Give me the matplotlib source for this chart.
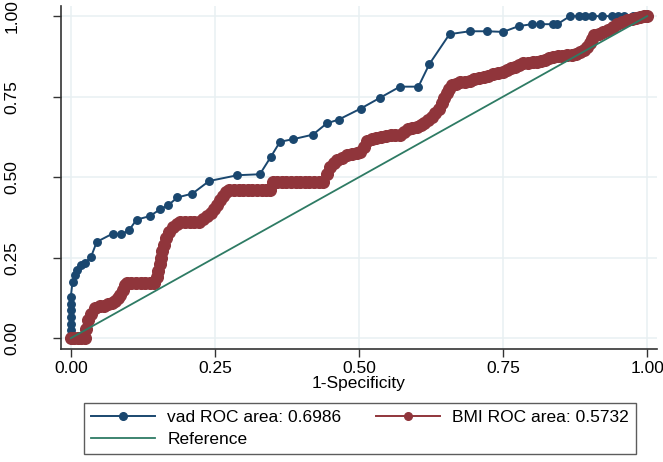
import matplotlib
matplotlib.use("Agg")
from matplotlib import pyplot as plt

# vad ROC points (1-specificity, sensitivity)
vad_x = [0, 0, 0, 0, 0, 0, 0, 0.003, 0.007, 0.011, 0.017, 0.024, 0.035, 0.045,
         0.073, 0.087, 0.101, 0.114, 0.137, 0.155, 0.169, 0.185, 0.211, 0.24,
         0.289, 0.328, 0.347, 0.363, 0.386, 0.42, 0.444, 0.465, 0.503, 0.536,
         0.571, 0.603, 0.622, 0.657, 0.692, 0.722, 0.75, 0.777, 0.80, 0.814,
         0.837, 0.844, 0.866, 0.881, 0.892, 0.904, 0.921, 0.939, 0.95, 0.959,
         0.975, 1.0]
vad_y = [0.004, 0.025, 0.045, 0.066, 0.087, 0.107, 0.128, 0.175, 0.196, 0.211,
         0.227, 0.233, 0.252, 0.299, 0.325, 0.322, 0.335, 0.368, 0.379, 0.40,
         0.413, 0.437, 0.449, 0.488, 0.506, 0.509, 0.563, 0.61, 0.618, 0.632,
         0.667, 0.679, 0.713, 0.746, 0.781, 0.781, 0.851, 0.944, 0.953, 0.953,
         0.951, 0.969, 0.975, 0.975, 0.975, 0.975, 1.0, 1.0, 1.0, 1.0, 1.0, 1.0,
         1.0, 1.0, 1.0, 1.0]

# BMI ROC points
bmi_pts = [
    (0, 0), (0.006, 0), (0.012, 0), (0.018, 0), (0.024, 0), (0.027, 0.03),
    (0.029, 0.056), (0.035, 0.075), (0.042, 0.095), (0.05, 0.10), (0.058, 0.10),
    (0.065, 0.105), (0.071, 0.109), (0.077, 0.115), (0.082, 0.124), (0.086, 0.135),
    (0.09, 0.15), (0.094, 0.165), (0.097, 0.17), (0.105, 0.17), (0.113, 0.17),
    (0.121, 0.17), (0.129, 0.17), (0.137, 0.17), (0.145, 0.17), (0.149, 0.19),
    (0.151, 0.21), (0.155, 0.23), (0.157, 0.25), (0.159, 0.27), (0.161, 0.29),
    (0.165, 0.31), (0.17, 0.33), (0.177, 0.345), (0.185, 0.355), (0.19, 0.36),
    (0.198, 0.36), (0.206, 0.36), (0.214, 0.36), (0.222, 0.362), (0.23, 0.37),
    (0.237, 0.38), (0.243, 0.39), (0.248, 0.40), (0.253, 0.415), (0.259, 0.43),
    (0.264, 0.44), (0.27, 0.455), (0.275, 0.46), (0.283, 0.46), (0.291, 0.46),
    (0.299, 0.46), (0.307, 0.46), (0.315, 0.46), (0.323, 0.46), (0.331, 0.46),
    (0.339, 0.46), (0.345, 0.46), (0.35, 0.485), (0.358, 0.485), (0.366, 0.485),
    (0.374, 0.485), (0.382, 0.485), (0.39, 0.485), (0.398, 0.485), (0.406, 0.485),
    (0.414, 0.485), (0.422, 0.485), (0.43, 0.485), (0.438, 0.485), (0.445, 0.51),
    (0.45, 0.532), (0.456, 0.545), (0.462, 0.553), (0.47, 0.56), (0.479, 0.568),
    (0.488, 0.572), (0.496, 0.576), (0.502, 0.579), (0.508, 0.595), (0.514, 0.612),
    (0.522, 0.618), (0.53, 0.622), (0.538, 0.625), (0.546, 0.628), (0.555, 0.63),
    (0.563, 0.63), (0.571, 0.632), (0.578, 0.64), (0.585, 0.648), (0.592, 0.652),
    (0.6, 0.657), (0.607, 0.662), (0.613, 0.668), (0.62, 0.678), (0.627, 0.688),
    (0.632, 0.698), (0.638, 0.712), (0.644, 0.729), (0.648, 0.745), (0.652, 0.76),
    (0.656, 0.775), (0.662, 0.785), (0.668, 0.79), (0.676, 0.795), (0.684, 0.797),
    (0.692, 0.8), (0.7, 0.805), (0.708, 0.808), (0.716, 0.811), (0.724, 0.815),
    (0.732, 0.819), (0.741, 0.823), (0.749, 0.828), (0.756, 0.833), (0.763, 0.838),
    (0.77, 0.843), (0.778, 0.848), (0.785, 0.853), (0.793, 0.855), (0.801, 0.857),
    (0.809, 0.858), (0.816, 0.86), (0.823, 0.865), (0.83, 0.87), (0.837, 0.874),
    (0.845, 0.876), (0.853, 0.877), (0.861, 0.878), (0.869, 0.879), (0.876, 0.882),
    (0.883, 0.888), (0.89, 0.896), (0.895, 0.905), (0.9, 0.918), (0.904, 0.93),
    (0.908, 0.941), (0.916, 0.946), (0.924, 0.951), (0.932, 0.958), (0.94, 0.966),
    (0.948, 0.975), (0.956, 0.982), (0.965, 0.988), (0.973, 0.992), (0.981, 0.995),
    (0.988, 0.998), (0.995, 1.0), (1.0, 1.0),
]
bmi_x = [p[0] for p in bmi_pts]
bmi_y = [p[1] for p in bmi_pts]

ref_x = [0, 1]
ref_y = [0, 1]

ticks = [0, 0.25, 0.5, 0.75, 1.0]
tick_labels = ["0.00", "0.25", "0.50", "0.75", "1.00"]

blue = "#1a476f"
red = "#90353b"
green = "#2e7b64"

plt.rcParams['font.family'] = ['Liberation Sans', 'DejaVu Sans']
fs = 12.5

fig = plt.figure(figsize=(6.63, 4.62), dpi=100)
ax = fig.add_axes([0.092, 0.245, 0.899, 0.741])

l_vad, = ax.plot(vad_x, vad_y, color=blue, lw=1.4, marker='o', ms=5.4,
                 label="vad ROC area: 0.6986", zorder=3)
l_bmi, = ax.plot(bmi_x, bmi_y, color=red, lw=1.4, marker='o', ms=8.4,
                 label="BMI ROC area: 0.5732", zorder=4)
l_ref, = ax.plot(ref_x, ref_y, color=green, lw=1.3, label="Reference", zorder=5)

ax.set_xlim(-0.017, 1.017)
ax.set_ylim(-0.033, 1.03)
ax.set_xticks(ticks)
ax.set_xticklabels(tick_labels)
ax.set_yticks(ticks)
ax.set_yticklabels(tick_labels, rotation=90, va='center')
ax.tick_params(labelsize=fs, length=6, width=1, color='#333333')
ax.tick_params(axis='x', pad=3)
ax.tick_params(axis='y', pad=24)
ax.grid(True, color='#e8f0f2', lw=1.1)
ax.set_axisbelow(True)
for s in ['top', 'right']:
    ax.spines[s].set_visible(False)
for s in ['left', 'bottom']:
    ax.spines[s].set_color('#333333')
    ax.spines[s].set_linewidth(1.2)
ax.set_xlabel("1-Specificity", fontsize=fs, labelpad=0)

leg = fig.legend([l_vad, l_ref, l_bmi],
                 ["vad ROC area: 0.6986", "Reference", "BMI ROC area: 0.5732"],
                 loc='upper center', bbox_to_anchor=(0.543, 0.146), ncol=2,
                 fontsize=fs, frameon=True, fancybox=False, edgecolor='#333333',
                 handlelength=3.7, handletextpad=0.7, columnspacing=2.0,
                 labelspacing=0.4, borderpad=0.4)
leg.get_frame().set_linewidth(1.0)
for h in leg.legend_handles:
    h.set_markersize(5.5)

fig.savefig("out.png", dpi=100)
